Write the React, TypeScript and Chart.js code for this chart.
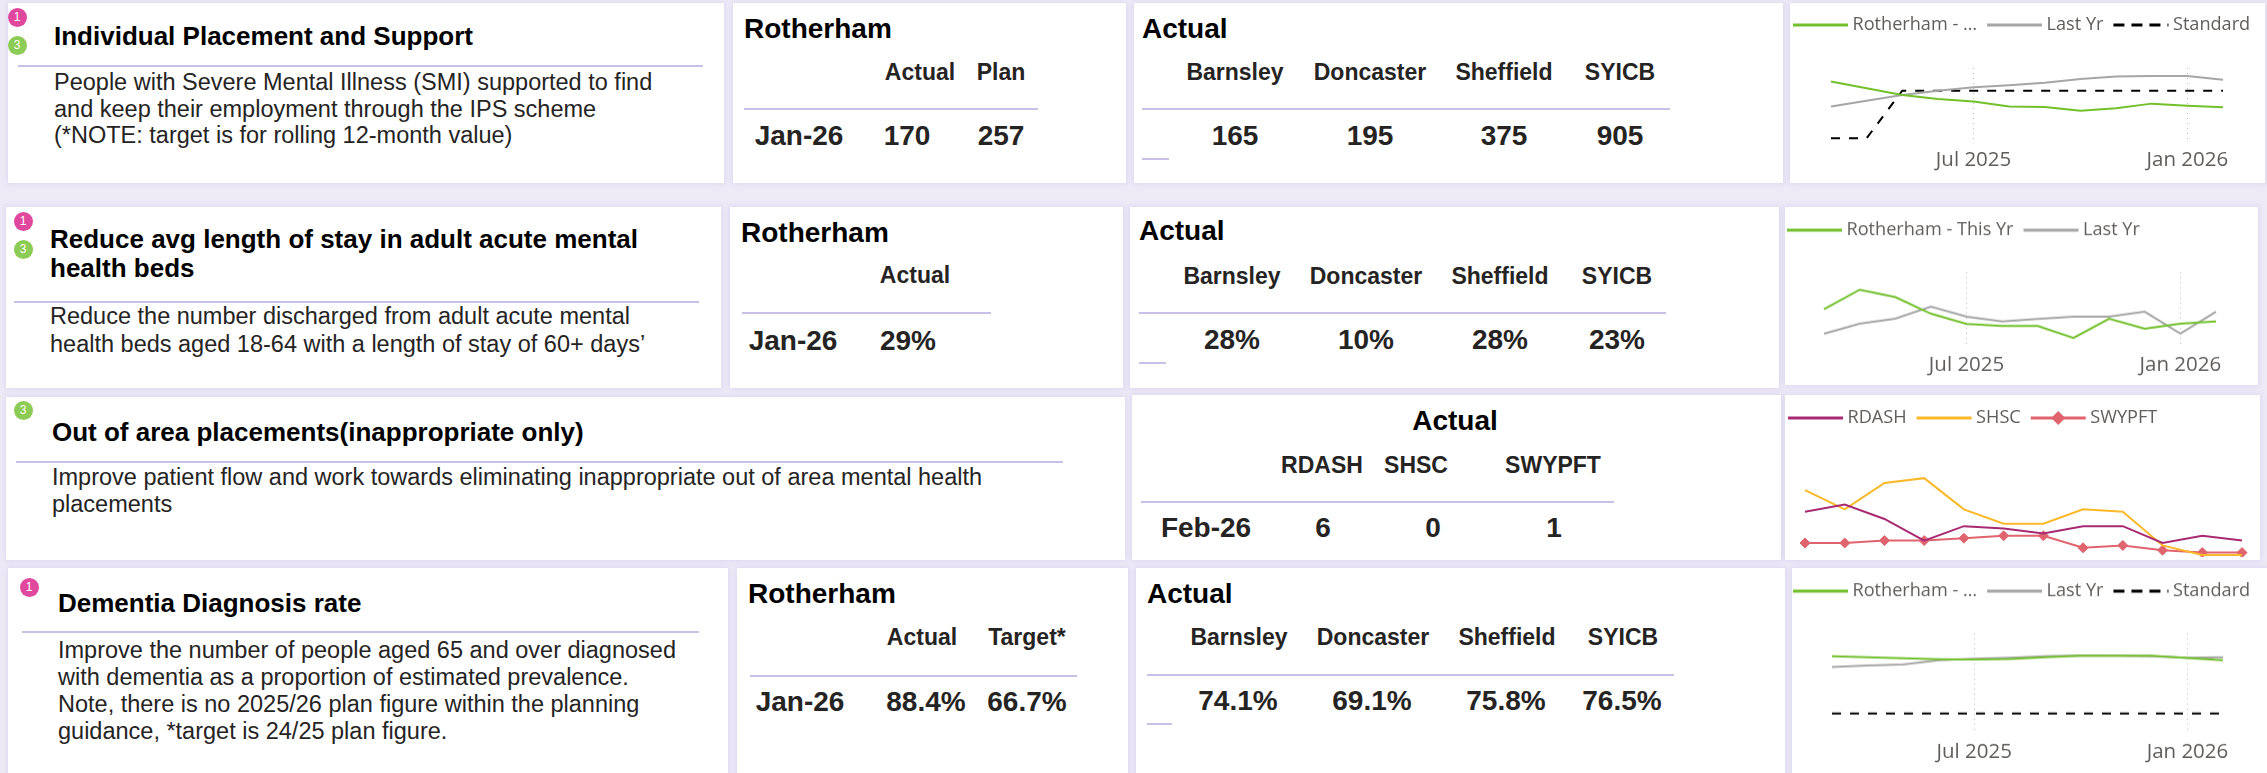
import React, { useEffect, useRef } from 'react';
import { Chart, registerables } from 'chart.js';

Chart.register(...registerables);

// ---------------- DATA ----------------
const months = ['Mar 2025', 'Apr 2025', 'May 2025', 'Jun 2025', 'Jul 2025', 'Aug 2025', 'Sep 2025', 'Oct 2025', 'Nov 2025', 'Dec 2025', 'Jan 2026', 'Feb 2026'];
const shownTicks = ['Jul 2025', 'Jan 2026'];

const ipsThisYr = [306, 270, 234, 212, 198, 172, 169, 149, 162, 187, 176, 167];
const ipsLastYr = [171, 203, 234, 257, 275, 286, 300, 320, 334, 336, 336, 316];
const ipsStandard = [0, 0, 257, 257, 257, 257, 257, 257, 257, 257, 257, 257];

const losThisYr = [37.6, 49.4, 45.0, 35.0, 28.8, 27.6, 27.6, 20.4, 32.0, 26.0, 29.0, 30.4];
const losLastYr = [23.0, 29.0, 32.0, 39.2, 33.2, 30.4, 31.8, 33.2, 33.2, 36.2, 23.0, 36.2];

const oapRDASH = [18, 21, 15, 6, 12, 11, 9, 12, 12, 5, 8, 6];
const oapSHSC = [27, 19, 30, 32, 19, 13, 13, 19, 18, 4, 0, 0];
const oapSWYPFT = [5, 5, 6, 6, 7, 8, 8, 3, 4, 2, 1, 1];

const demThisYr = [89.1, 88.7, 88.3, 87.9, 87.8, 88.0, 88.7, 89.3, 89.3, 89.3, 88.4, 87.5];
const demLastYr = [84.9, 85.5, 85.9, 87.5, 88.1, 88.5, 89.1, 89.4, 89.3, 89.1, 88.5, 88.7];
const demStandard = [66.7, 66.7, 66.7, 66.7, 66.7, 66.7, 66.7, 66.7, 66.7, 66.7, 66.7, 66.7];

const placeHeaders = ['Barnsley', 'Doncaster', 'Sheffield', 'SYICB'];
const providerHeaders = ['RDASH', 'SHSC', 'SWYPFT'];

const ipsRotHeaders = ['Actual', 'Plan'];
const ipsRotRow = ['Jan-26', '170', '257'];
const ipsPlaceValues = ['165', '195', '375', '905'];

const losRotHeaders = ['Actual'];
const losRotRow = ['Jan-26', '29%'];
const losPlaceValues = ['28%', '10%', '28%', '23%'];

const oapRow = ['Feb-26', '6', '0', '1'];

const demRotHeaders = ['Actual', 'Target*'];
const demRotRow = ['Jan-26', '88.4%', '66.7%'];
const demPlaceValues = ['74.1%', '69.1%', '75.8%', '76.5%'];

const ipsTitle = 'Individual Placement and Support';
const ipsBody = [
  'People with Severe Mental Illness (SMI) supported to find',
  'and keep their employment through the IPS scheme',
  '(*NOTE: target is for rolling 12-month value)',
];
const losTitle = ['Reduce avg length of stay in adult acute mental', 'health beds'];
const losBody = [
  'Reduce the number discharged from adult acute mental',
  'health beds aged 18-64 with a length of stay of 60+ days\u2019',
];
const oapTitle = 'Out of area placements(inappropriate only)';
const oapBody = [
  'Improve patient flow and work towards eliminating inappropriate out of area mental health',
  'placements',
];
const demTitle = 'Dementia Diagnosis rate';
const demBody = [
  'Improve the number of people aged 65 and over diagnosed',
  'with dementia as a proportion of estimated prevalence.',
  'Note, there is no 2025/26 plan figure within the planning',
  'guidance, *target is 24/25 plan figure.',
];

// ---------------- STYLE ----------------
const TEXT_FONT = '"Liberation Sans", Arial, Helvetica, sans-serif';
const CHART_FONT = '"Segoe UI", "Open Sans", "Noto Sans", sans-serif';
const GREEN = '#72C02C';
const GRAY = '#A6A6A6';
const BLACK = '#000000';
const RDASH_C = '#A82A72';
const SHSC_C = '#FBB829';
const SWYPFT_C = '#E0646E';
const DIVIDER = '#C9C0E8';
const PINK_BADGE = '#E0489E';
const GREEN_BADGE = '#8CCB55';
const AXIS_TEXT = '#605E5C';

Chart.defaults.font.family = CHART_FONT;

// font sizes fitted so that the rendered text widths match the reference widths
function measure100(text: string) {
  const c = document.createElement('canvas').getContext('2d') as CanvasRenderingContext2D;
  c.font = `100px ${CHART_FONT}`;
  return c.measureText(text).width;
}
function fittedSizes() {
  const legend = (100 * (126 + 58 + 75)) / (measure100('Rotherham - \u2026') + measure100('Last Yr') + measure100('Standard'));
  const tick = (100 * (76 + 81)) / (measure100('Jul 2025') + measure100('Jan 2026'));
  return { legend, tick };
}

const SAMPLE_LEN = 55;
const TEXT_OFFSET = 59.5;

// legend line samples (drawn over the legend's item boxes)
const legendLines = {
  id: 'legendLines',
  afterDraw(chart: any) {
    const legend = chart.legend;
    if (!legend || !legend.legendHitBoxes) return;
    const ctx = chart.ctx;
    legend.legendItems.forEach((it: any, i: number) => {
      const hb = legend.legendHitBoxes[i];
      const ds = chart.data.datasets[it.datasetIndex];
      const y = hb.top + hb.height / 2;
      ctx.save();
      ctx.strokeStyle = ds.borderColor;
      ctx.lineWidth = 3;
      ctx.setLineDash(ds.legendDash || []);
      ctx.beginPath();
      ctx.moveTo(hb.left, y);
      ctx.lineTo(hb.left + SAMPLE_LEN, y);
      ctx.stroke();
      if (ds.legendMarker) {
        const cx = hb.left + SAMPLE_LEN / 2;
        const r = 7;
        ctx.setLineDash([]);
        ctx.fillStyle = ds.borderColor;
        ctx.beginPath();
        ctx.moveTo(cx, y - r);
        ctx.lineTo(cx + r, y);
        ctx.lineTo(cx, y + r);
        ctx.lineTo(cx - r, y);
        ctx.closePath();
        ctx.fill();
      }
      ctx.restore();
    });
  },
};

type DS = { label: string; data: number[]; color: string; width: number; dash?: number[]; legendDash?: number[]; marker?: boolean };

type ChartProps = {
  sampleX: number;   // left of first legend sample
  legendCY: number;  // legend text centre
  areaL: number; areaR: number; areaTop: number; areaBottom: number;
  labelCY?: number;  // x tick label centre (if shown)
  datasets: DS[]; yMin: number; yMax: number;
};

const CANVAS_W = 520;

function LineChart(p: ChartProps) {
  const ref = useRef<HTMLCanvasElement>(null);
  const left = p.sampleX - 10;
  const top = p.legendCY - 25;
  const showX = p.labelCY !== undefined;
  const bottom = showX ? (p.labelCY as number) + 18 : p.areaBottom;
  const height = bottom - top;

  useEffect(() => {
    const { legend: L, tick: TK } = fittedSizes();
    const shownIdx = shownTicks.map((t) => months.indexOf(t));
    const layoutTop = Math.max(0, 25 - 10 - L / 2);
    const tickPad = showX ? (p.labelCY as number) - p.areaBottom - 0.6 * TK : 0;
    const chart = new Chart(ref.current as HTMLCanvasElement, {
      type: 'line',
      data: {
        labels: months,
        datasets: p.datasets.map((d) => ({
          label: d.label,
          data: d.data,
          borderColor: d.color,
          backgroundColor: d.color,
          borderWidth: d.width,
          borderDash: d.dash || [],
          pointRadius: d.marker ? 5 : 0,
          pointStyle: 'rectRot',
          pointBackgroundColor: d.color,
          pointBorderColor: d.color,
          pointBorderWidth: 1,
          tension: 0,
          fill: false,
          clip: false,
          xAxisID: 'x',
          yAxisID: 'y',
          legendDash: d.legendDash || [],
          legendMarker: !!d.marker,
        })) as any,
      },
      options: {
        responsive: false,
        animation: false,
        events: [],
        layout: { padding: { top: layoutTop, left: 0, right: 0, bottom: 0 }, autoPadding: false },
        plugins: {
          legend: {
            display: true,
            position: 'top',
            align: 'start',
            labels: {
              boxWidth: TEXT_OFFSET - L / 2,
              boxHeight: 0,
              padding: 10,
              color: AXIS_TEXT,
              font: { size: L, family: CHART_FONT },
              generateLabels: (c: any) =>
                c.data.datasets.map((ds: any, i: number) => ({
                  text: ds.label,
                  fillStyle: 'rgba(0,0,0,0)',
                  strokeStyle: 'rgba(0,0,0,0)',
                  lineWidth: 0,
                  hidden: false,
                  datasetIndex: i,
                  fontColor: AXIS_TEXT,
                })),
            },
          },
          tooltip: { enabled: false },
        },
        scales: {
          x: {
            type: 'category',
            display: showX,
            offset: false,
            grid: {
              display: true,
              drawTicks: false,
              lineWidth: 1,
              color: (c: any) => (shownIdx.includes(c.index) ? '#BEBCBA' : 'rgba(0,0,0,0)'),
            },
            border: { display: false, dash: [1, 4] },
            ticks: {
              autoSkip: false,
              maxRotation: 0,
              minRotation: 0,
              padding: tickPad,
              color: AXIS_TEXT,
              font: { size: TK, family: CHART_FONT },
              callback: (_v: any, i: number) => (shownTicks.includes(months[i]) ? months[i] : ''),
            },
            afterFit: (s: any) => { s.height = bottom - p.areaBottom; },
          },
          y: {
            type: 'linear',
            display: true,
            min: p.yMin,
            max: p.yMax,
            grid: { display: false },
            border: { display: false },
            ticks: { display: false },
            afterFit: (s: any) => { s.width = p.areaL - left; },
          },
          padR: {
            type: 'linear',
            position: 'right',
            display: true,
            grid: { display: false },
            border: { display: false },
            ticks: { display: false },
            afterFit: (s: any) => { s.width = left + CANVAS_W - p.areaR; },
          },
          padT: {
            type: 'linear',
            position: 'top',
            display: true,
            grid: { display: false },
            border: { display: false },
            ticks: { display: false },
            afterFit: (s: any) => {
              const lh = s.chart.legend ? s.chart.legend.height : 0;
              s.height = Math.max(0, p.areaTop - top - layoutTop - lh);
            },
          },
        } as any,
      },
      plugins: [legendLines],
    });
    return () => chart.destroy();
  }, []);
  return (
    <canvas
      ref={ref}
      width={CANVAS_W}
      height={height}
      style={{ position: 'absolute', left, top, width: CANVAS_W, height }}
    />
  );
}

// ---------------- HTML helpers ----------------
function T(props: { x: number; cy: number; size: number; bold?: boolean; center?: boolean; color?: string; children: React.ReactNode }) {
  const { x, cy, size, bold, center, color, children } = props;
  return (
    <div
      style={{
        position: 'absolute',
        left: x,
        top: cy - 0.5885 * size,
        fontFamily: TEXT_FONT,
        fontSize: size,
        lineHeight: `${size * 1.2}px`,
        fontWeight: bold ? 700 : 400,
        color: color || '#252423',
        whiteSpace: 'nowrap',
        transform: center ? 'translateX(-50%)' : undefined,
      }}
    >
      {children}
    </div>
  );
}

function Panel({ x1, y1, x2, y2 }: { x1: number; y1: number; x2: number; y2: number }) {
  return (
    <div
      style={{
        position: 'absolute',
        left: x1,
        top: y1,
        width: x2 - x1,
        height: y2 - y1,
        background: '#FFFFFF',
        boxShadow: '0 0 5px 1px rgba(205,198,235,0.55)',
      }}
    />
  );
}

function Line({ x, y, w }: { x: number; y: number; w: number }) {
  return <div style={{ position: 'absolute', left: x, top: y - 1, width: w, height: 2, background: DIVIDER }} />;
}

function Badge({ cx, cy, color, n }: { cx: number; cy: number; color: string; n: string }) {
  const d = 19;
  return (
    <div
      style={{
        position: 'absolute',
        left: cx - d / 2,
        top: cy - d / 2,
        width: d,
        height: d,
        borderRadius: '50%',
        background: color,
        color: '#FFFFFF',
        fontFamily: TEXT_FONT,
        fontSize: 12,
        lineHeight: `${d}px`,
        textAlign: 'center',
      }}
    >
      {n}
    </div>
  );
}

const placeX1 = [1235, 1370, 1504, 1620];
const placeX2 = [1232, 1366, 1500, 1617];
const placeX4 = [1239, 1373, 1507, 1623];
const placeVX4 = [1238, 1372, 1506, 1622];

export default function App() {
  useEffect(() => {
    document.body.style.margin = '0';
    document.body.style.overflow = 'hidden';
  }, []);

  return (
    <div style={{ position: 'fixed', left: 0, top: 0, width: 2267, height: 773, background: '#EEEBF7', overflow: 'hidden' }}>
      {/* Row 1 */}
      <Panel x1={8} y1={3} x2={724} y2={183} />
      <Panel x1={733} y1={3} x2={1126} y2={183} />
      <Panel x1={1134} y1={3} x2={1783} y2={183} />
      <Panel x1={1790} y1={3} x2={2265} y2={183} />
      {/* Row 2 */}
      <Panel x1={6} y1={207} x2={721} y2={388} />
      <Panel x1={730} y1={207} x2={1123} y2={388} />
      <Panel x1={1130} y1={207} x2={1779} y2={388} />
      <Panel x1={1785} y1={207} x2={2258} y2={385} />
      {/* Row 3 */}
      <Panel x1={6} y1={397} x2={1125} y2={560} />
      <Panel x1={1132} y1={395} x2={1781} y2={560} />
      <Panel x1={1785} y1={395} x2={2260} y2={560} />
      {/* Row 4 */}
      <Panel x1={8} y1={568} x2={728} y2={790} />
      <Panel x1={737} y1={568} x2={1128} y2={790} />
      <Panel x1={1136} y1={568} x2={1785} y2={790} />
      <Panel x1={1792} y1={568} x2={2280} y2={790} />

      {/* ===== Row 1: IPS ===== */}
      <Badge cx={17} cy={17} color={PINK_BADGE} n="1" />
      <Badge cx={17} cy={45} color={GREEN_BADGE} n="3" />
      <T x={54} cy={36} size={26} bold color="#000">{ipsTitle}</T>
      <Line x={18} y={66} w={685} />
      {ipsBody.map((s, i) => (
        <T key={i} x={54} cy={81.7 + i * 26.7} size={23.5}>{s}</T>
      ))}
      <T x={744} cy={28.5} size={28} bold color="#000">Rotherham</T>
      <T x={920} cy={72.5} size={23} bold center>{ipsRotHeaders[0]}</T>
      <T x={1001} cy={72.5} size={23} bold center>{ipsRotHeaders[1]}</T>
      <Line x={744} y={109} w={294} />
      <T x={799} cy={135} size={28} bold center>{ipsRotRow[0]}</T>
      <T x={907} cy={135} size={28} bold center>{ipsRotRow[1]}</T>
      <T x={1001} cy={135} size={28} bold center>{ipsRotRow[2]}</T>
      <T x={1142} cy={28.5} size={28} bold color="#000">Actual</T>
      {placeHeaders.map((h, i) => (
        <T key={h} x={placeX1[i]} cy={72.5} size={23} bold center>{h}</T>
      ))}
      <Line x={1142} y={109} w={528} />
      {ipsPlaceValues.map((v, i) => (
        <T key={i} x={placeX1[i]} cy={135} size={28} bold center>{v}</T>
      ))}
      <Line x={1142} y={159} w={27} />

      {/* ===== Row 2: LOS ===== */}
      <Badge cx={23} cy={221} color={PINK_BADGE} n="1" />
      <Badge cx={23} cy={249} color={GREEN_BADGE} n="3" />
      {losTitle.map((s, i) => (
        <T key={i} x={50} cy={239 + i * 29.5} size={26} bold color="#000">{s}</T>
      ))}
      <Line x={14} y={302} w={685} />
      {losBody.map((s, i) => (
        <T key={i} x={50} cy={315.5 + i * 28} size={23.5}>{s}</T>
      ))}
      <T x={741} cy={232.5} size={28} bold color="#000">Rotherham</T>
      <T x={915} cy={275.7} size={23} bold center>{losRotHeaders[0]}</T>
      <Line x={742} y={313} w={249} />
      <T x={793} cy={340} size={28} bold center>{losRotRow[0]}</T>
      <T x={908} cy={340} size={28} bold center>{losRotRow[1]}</T>
      <T x={1139} cy={230} size={28} bold color="#000">Actual</T>
      {placeHeaders.map((h, i) => (
        <T key={h} x={placeX2[i]} cy={277} size={23} bold center>{h}</T>
      ))}
      <Line x={1139} y={313} w={527} />
      {losPlaceValues.map((v, i) => (
        <T key={i} x={placeX2[i]} cy={339} size={28} bold center>{v}</T>
      ))}
      <Line x={1139} y={363} w={27} />

      {/* ===== Row 3: OAP ===== */}
      <Badge cx={23} cy={410} color={GREEN_BADGE} n="3" />
      <T x={52} cy={432} size={26} bold color="#000">{oapTitle}</T>
      <Line x={16} y={462} w={1047} />
      {oapBody.map((s, i) => (
        <T key={i} x={52} cy={477 + i * 27} size={23.5}>{s}</T>
      ))}
      <T x={1455} cy={420} size={28} bold center color="#000">Actual</T>
      <T x={1322} cy={466} size={23} bold center>{providerHeaders[0]}</T>
      <T x={1416} cy={466} size={23} bold center>{providerHeaders[1]}</T>
      <T x={1553} cy={466} size={23} bold center>{providerHeaders[2]}</T>
      <Line x={1141} y={502} w={473} />
      <T x={1206} cy={527} size={28} bold center>{oapRow[0]}</T>
      <T x={1323} cy={527} size={28} bold center>{oapRow[1]}</T>
      <T x={1433} cy={527} size={28} bold center>{oapRow[2]}</T>
      <T x={1554} cy={527} size={28} bold center>{oapRow[3]}</T>

      {/* ===== Row 4: Dementia ===== */}
      <Badge cx={29} cy={587} color={PINK_BADGE} n="1" />
      <T x={58} cy={603} size={26} bold color="#000">{demTitle}</T>
      <Line x={22} y={632} w={677} />
      {demBody.map((s, i) => (
        <T key={i} x={58} cy={649.5 + i * 27} size={23.5}>{s}</T>
      ))}
      <T x={748} cy={593} size={28} bold color="#000">Rotherham</T>
      <T x={922} cy={638} size={23} bold center>{demRotHeaders[0]}</T>
      <T x={1027} cy={638} size={23} bold center>{demRotHeaders[1]}</T>
      <Line x={750} y={676} w={327} />
      <T x={800} cy={701} size={28} bold center>{demRotRow[0]}</T>
      <T x={926} cy={701} size={28} bold center>{demRotRow[1]}</T>
      <T x={1027} cy={701} size={28} bold center>{demRotRow[2]}</T>
      <T x={1147} cy={593} size={28} bold color="#000">Actual</T>
      {placeHeaders.map((h, i) => (
        <T key={h} x={placeX4[i]} cy={638} size={23} bold center>{h}</T>
      ))}
      <Line x={1147} y={675} w={527} />
      {demPlaceValues.map((v, i) => (
        <T key={i} x={placeVX4[i]} cy={700} size={28} bold center>{v}</T>
      ))}
      <Line x={1147} y={724} w={25} />

      {/* ===== Charts ===== */}
      <LineChart
        sampleX={1793} legendCY={25}
        areaL={1831} areaR={2223} areaTop={68} areaBottom={140} labelCY={160}
        yMin={-9.4} yMax={379.4}
        datasets={[
          { label: 'Rotherham - \u2026', data: ipsThisYr, color: GREEN, width: 2 },
          { label: 'Last Yr', data: ipsLastYr, color: GRAY, width: 2 },
          { label: 'Standard', data: ipsStandard, color: BLACK, width: 2, dash: [9, 9], legendDash: [11, 7] },
        ]}
      />
      <LineChart
        sampleX={1787} legendCY={230}
        areaL={1824} areaR={2216} areaTop={272} areaBottom={345} labelCY={364.5}
        yMin={16} yMax={59.8}
        datasets={[
          { label: 'Rotherham - This Yr', data: losThisYr, color: GREEN, width: 2 },
          { label: 'Last Yr', data: losLastYr, color: GRAY, width: 2 },
        ]}
      />
      <LineChart
        sampleX={1788} legendCY={418}
        areaL={1805} areaR={2242} areaTop={445} areaBottom={557}
        yMin={-0.83} yMax={45.8}
        datasets={[
          { label: 'RDASH', data: oapRDASH, color: RDASH_C, width: 2 },
          { label: 'SHSC', data: oapSHSC, color: SHSC_C, width: 2 },
          { label: 'SWYPFT', data: oapSWYPFT, color: SWYPFT_C, width: 2, marker: true },
        ]}
      />
      <LineChart
        sampleX={1793} legendCY={591}
        areaL={1832} areaR={2223} areaTop={633} areaBottom={732} labelCY={751.5}
        yMin={59.4} yMax={98.0}
        datasets={[
          { label: 'Rotherham - \u2026', data: demThisYr, color: GREEN, width: 2 },
          { label: 'Last Yr', data: demLastYr, color: GRAY, width: 2 },
          { label: 'Standard', data: demStandard, color: BLACK, width: 2, dash: [9, 9], legendDash: [11, 7] },
        ]}
      />
    </div>
  );
}
